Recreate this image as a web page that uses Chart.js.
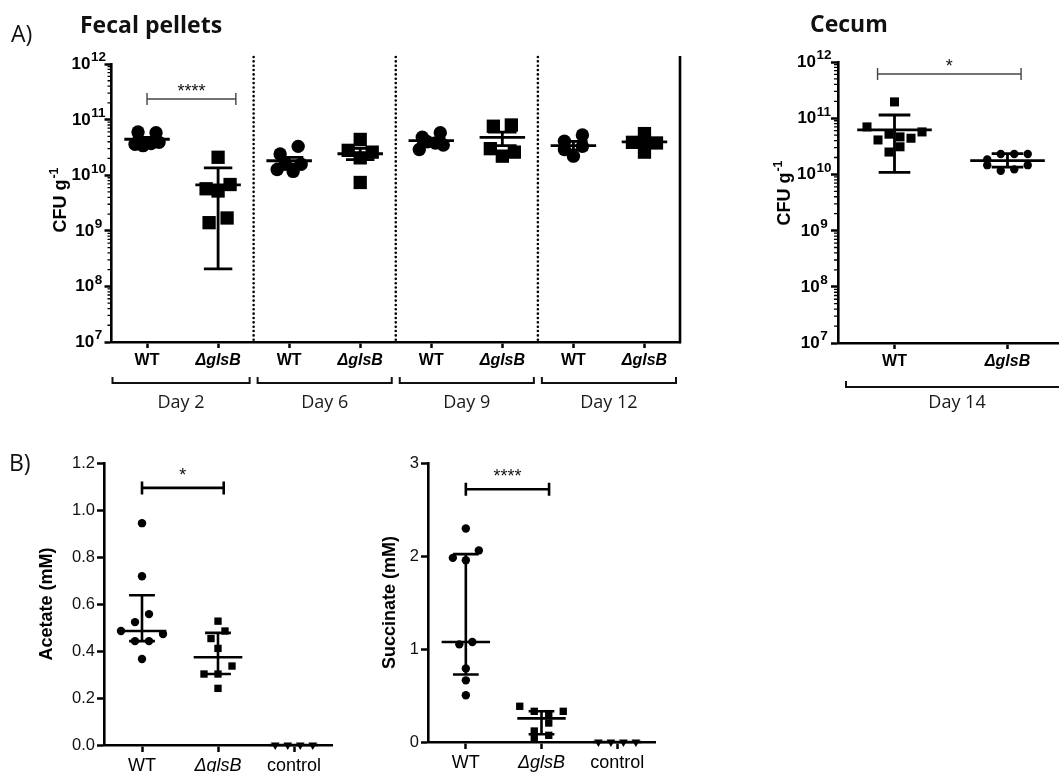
<!DOCTYPE html>
<html><head><meta charset="utf-8"><title>glsB colonization and metabolites</title>
<script src="https://cdn.jsdelivr.net/npm/chart.js@4.4.1/dist/chart.umd.min.js"></script>
<style>
html,body{margin:0;padding:0;background:#fff;}
body{width:1059px;height:772px;overflow:hidden;position:relative;}
canvas{position:absolute;display:block;}
.lbl{position:absolute;font-family:"Open Sans",sans-serif;color:#111;white-space:nowrap;line-height:23px;font-size:23px;}
</style></head><body>
<canvas id="fecal" width="700" height="420" style="left:0;top:0"></canvas>
<canvas id="cecum" width="340" height="420" style="left:740px;top:0"></canvas>
<canvas id="acetate" width="360" height="352" style="left:0;top:420px"></canvas>
<canvas id="succinate" width="320" height="352" style="left:360px;top:420px"></canvas>
<div class="lbl" style="left:11px;top:22px">A)</div>
<div class="lbl" style="left:80px;top:13px;font-weight:700">Fecal pellets</div>
<div class="lbl" style="left:810px;top:12px;font-weight:700">Cecum</div>
<div class="lbl" style="left:9px;top:451px">B)</div>
<script>
// ======================= DATA =======================
// Panel A - fecal pellets (CFU g-1)
const fecalCategories = ['WT', 'ΔglsB', 'WT', 'ΔglsB', 'WT', 'ΔglsB', 'WT', 'ΔglsB'];
const fecalDays = ['Day 2', 'Day 6', 'Day 9', 'Day 12'];
const fecalWT_day2  = [6.0e10, 5.8e10, 3.6e10, 3.4e10, 3.7e10, 3.9e10];
const fecalKO_day2  = [2.1e10, 5.7e9, 5.2e9, 6.8e9, 1.4e9, 1.7e9];
const fecalWT_day6  = [2.4e10, 3.3e10, 1.27e10, 1.57e10, 1.17e10, 1.57e10];
const fecalKO_day6  = [4.4e10, 2.8e10, 2.05e10, 2.6e10, 7.4e9];
const fecalWT_day9  = [4.8e10, 5.8e10, 2.9e10, 4.0e10, 3.8e10, 3.5e10];
const fecalKO_day9  = [7.6e10, 8.0e10, 3.0e10, 2.2e10, 2.6e10];
const fecalWT_day12 = [4.1e10, 5.3e10, 2.9e10, 3.3e10, 2.2e10];
const fecalKO_day12 = [5.6e10, 3.9e10, 4.0e10, 3.8e10, 2.6e10];
const fecalMean    = [4.43e10, 6.7e9, 1.82e10, 2.43e10, 4.17e10, 4.78e10, 3.39e10, 3.98e10];
const fecalErrHigh = [4.8e10, 1.35e10, 2.1e10, 3.05e10, 4.55e10, 5.96e10, 4.05e10, 4.4e10];
const fecalErrLow  = [4.1e10, 2.06e8, 1.58e10, 1.9e10, 3.75e10, 3.4e10, 2.85e10, 3.55e10];
const fecalSig = {from: 0, to: 1.25, at: 2.35e11, label: '****'};

// Panel A - cecum (CFU g-1), day 14
const cecumCategories = ['WT', 'ΔglsB'];
const cecumDay = 'Day 14';
const cecumWT = [1.95e11, 7.0e10, 4.1e10, 5.2e10, 4.65e10, 4.4e10, 5.7e10, 2.5e10, 3.1e10];
const cecumKO = [1.85e10, 2.3e10, 2.3e10, 2.3e10, 1.46e10, 1.16e10, 1.23e10, 1.46e10];
const cecumMean    = [6.2e10, 1.76e10];
const cecumErrHigh = [1.14e11, 2.35e10];
const cecumErrLow  = [1.09e10, 1.35e10];
const cecumSig = {from: -0.15, to: 1.12, at: 6.1e11, label: '*'};

const logTickExponents = [7, 8, 9, 10, 11, 12];
const logMinorMultipliers = [2, 3, 4, 5, 6, 7, 8, 9];

// Panel B - metabolites (mM)
const bCategories = ['WT', 'ΔglsB', 'control'];
const acetateWT   = [0.944, 0.718, 0.523, 0.557, 0.485, 0.442, 0.442, 0.472, 0.366];
const acetateKO   = [0.527, 0.453, 0.485, 0.411, 0.302, 0.302, 0.336, 0.241];
const acetateCtrl = [0, 0, 0, 0];
const acetateTicks = [0, 0.2, 0.4, 0.6, 0.8, 1.0, 1.2];
const acetateSig = {from: 0, to: 1.075, at: 1.094, label: '*'};

const succinateWT   = [2.295, 1.98, 1.954, 2.06, 1.05, 1.075, 0.79, 0.663, 0.502];
const succinateKO   = [0.384, 0.33, 0.305, 0.33, 0.118, 0.204, 0.036, 0.072];
const succinateCtrl = [0, 0, 0, 0];
const succinateTicks = [0, 1, 2, 3];
const succinateSig = {from: 0, to: 1.1, at: 2.717, label: '****'};

// ======================= HELPERS =======================
const FONT = '"Liberation Sans", Arial, Helvetica, sans-serif';
const DAY_FONT = '"Open Sans", sans-serif';

// Prism style quartiles (n+1 method)
function quartiles(arr) {
  const s = [...arr].sort((a, b) => a - b), n = s.length;
  const q = p => {
    const pos = p * (n + 1), lo = Math.floor(pos), f = pos - lo;
    if (lo < 1) return s[0];
    if (lo >= n) return s[n - 1];
    return s[lo - 1] + f * (s[lo] - s[lo - 1]);
  };
  return {q1: q(0.25), med: q(0.5), q3: q(0.75)};
}

function makeDataset(values, group, style) {
  return {
    data: values.map(v => ({x: group, y: v})),
    group: group,
    swarm: style.swarm,
    clip: false,
    showLine: false,
    pointStyle: style.shape,
    pointRadius: style.r,
    pointRotation: style.rot || 0,
    pointBackgroundColor: '#000',
    pointBorderColor: '#000',
    pointBorderWidth: 0,
    pointHoverRadius: style.r
  };
}

// horizontal spreading of overlapping points (rows centred on the column), computed from scale pixels
function applySwarm(chart) {
  const xs = chart.scales.x, ys = chart.scales.y;
  const unit = xs.getPixelForValue(1) - xs.getPixelForValue(0);
  chart.data.datasets.forEach(ds => {
    const sw = ds.swarm;
    if (!sw) return;
    const pts = ds.data.map((p, i) => ({i, py: ys.getPixelForValue(p.y)}));
    const sorted = [...pts].sort((a, b) => a.py - b.py || a.i - b.i);
    const rows = [];
    sorted.forEach(p => {
      const r = rows[rows.length - 1];
      if (r && p.py - r.y0 <= sw.tol) r.m.push(p); else rows.push({y0: p.py, m: [p]});
    });
    rows.forEach(r => {
      r.m.sort((a, b) => a.i - b.i);
      const n = r.m.length;
      const s = n > 1 ? Math.min(sw.spacing, sw.span / (n - 1)) : 0;
      r.m.forEach((p, k) => { ds.data[p.i].x = ds.group + (k - (n - 1) / 2) * s / unit; });
    });
  });
  chart.update('none');
}

function catAxis(cats, o) {
  return {
    type: 'linear', min: -0.5, max: cats.length - 0.5,
    afterBuildTicks: s => { s.ticks = cats.map((c, i) => ({value: i})); },
    afterFit: s => { s.height = o.height; },
    ticks: {
      autoSkip: false, maxRotation: 0, minRotation: 0, padding: o.pad, color: '#000',
      callback: v => cats[Math.round(v)],
      font: ctx => ({family: FONT, size: o.size, weight: o.weight,
        style: (cats[ctx.index] || '').charAt(0) === 'Δ' ? 'italic' : 'normal'})
    },
    grid: {display: true, drawOnChartArea: false, drawTicks: true, tickLength: o.tick, tickWidth: 2.5, tickColor: '#000', color: '#000'},
    border: {display: true, width: 2.6, color: '#000'}
  };
}

function logAxis(width) {
  return {
    type: 'logarithmic', min: Math.pow(10, logTickExponents[0]), max: Math.pow(10, logTickExponents[logTickExponents.length - 1]),
    afterBuildTicks: s => { s.ticks = logTickExponents.map(e => ({value: Math.pow(10, e), major: true})); },
    afterFit: s => { s.width = width; },
    ticks: {display: false},
    grid: {display: true, drawOnChartArea: false, drawTicks: true, tickLength: 7, tickWidth: 2.5, tickColor: '#000', color: '#000'},
    border: {display: true, width: 2.6, color: '#000'}
  };
}

function linAxis(tickVals, width, decimals, title, titlePad) {
  return {
    type: 'linear', min: tickVals[0], max: tickVals[tickVals.length - 1],
    afterBuildTicks: s => { s.ticks = tickVals.map(v => ({value: v})); },
    afterFit: s => { s.width = width; },
    ticks: {color: '#111', padding: 2, font: {family: FONT, size: 16.5}, callback: v => Number(v).toFixed(decimals)},
    grid: {display: true, drawOnChartArea: false, drawTicks: true, tickLength: 7, tickWidth: 2.5, tickColor: '#000', color: '#000'},
    border: {display: true, width: 2.6, color: '#000'},
    title: {display: true, text: title, color: '#000', font: {family: FONT, size: 18, weight: 'bold'}, padding: {top: titlePad, bottom: 0}}
  };
}

function drawErrorBars(chart, centers, lows, highs, st) {
  const {ctx, scales: {x, y}} = chart;
  const unit = x.getPixelForValue(1) - x.getPixelForValue(0);
  ctx.save();
  ctx.strokeStyle = '#000'; ctx.lineWidth = st.lw; ctx.lineCap = 'butt';
  centers.forEach((c, g) => {
    const cx = x.getPixelForValue(g);
    const yc = y.getPixelForValue(c), yl = y.getPixelForValue(lows[g]), yh = y.getPixelForValue(highs[g]);
    const hm = unit * st.mean, hc = unit * st.cap;
    ctx.beginPath();
    ctx.moveTo(cx, yh); ctx.lineTo(cx, yl);
    ctx.moveTo(cx - hc, yh); ctx.lineTo(cx + hc, yh);
    ctx.moveTo(cx - hc, yl); ctx.lineTo(cx + hc, yl);
    ctx.moveTo(cx - hm, yc); ctx.lineTo(cx + hm, yc);
    ctx.stroke();
  });
  ctx.restore();
}

function drawSig(chart, b, st) {
  const {ctx, scales: {x, y}} = chart;
  const x1 = x.getPixelForValue(b.from), x2 = x.getPixelForValue(b.to), py = y.getPixelForValue(b.at);
  ctx.save();
  ctx.strokeStyle = st.color; ctx.lineWidth = st.lw;
  ctx.beginPath();
  ctx.moveTo(x1, py); ctx.lineTo(x2, py);
  ctx.moveTo(x1, py - st.tick); ctx.lineTo(x1, py + st.tick);
  ctx.moveTo(x2, py - st.tick); ctx.lineTo(x2, py + st.tick);
  ctx.stroke();
  ctx.font = `18px ${FONT}`; ctx.fillStyle = '#111';
  ctx.textAlign = 'center'; ctx.textBaseline = 'alphabetic';
  ctx.fillText(b.label, (x1 + x2) / 2, py - st.gap);
  ctx.restore();
}

function drawLogDecor(chart, o) {
  const {ctx, scales: {y}} = chart;
  const ax = y.right;
  ctx.save();
  // minor ticks
  ctx.strokeStyle = '#000'; ctx.lineWidth = 1.3;
  ctx.beginPath();
  logTickExponents.slice(0, -1).forEach(e => {
    logMinorMultipliers.forEach(m => {
      const py = y.getPixelForValue(m * Math.pow(10, e));
      ctx.moveTo(ax - 4, py); ctx.lineTo(ax, py);
    });
  });
  ctx.stroke();
  // labels 10^n
  ctx.fillStyle = '#000'; ctx.textAlign = 'left'; ctx.textBaseline = 'alphabetic';
  logTickExponents.forEach(e => {
    const py = y.getPixelForValue(Math.pow(10, e));
    const base = `bold 17px ${FONT}`, sup = `bold 13.5px ${FONT}`;
    ctx.font = base; const w1 = ctx.measureText('10').width;
    ctx.font = sup; const w2 = ctx.measureText(String(e)).width;
    const left = ax - o.labelCenter - (w1 + w2) / 2;
    const bl = py + 5;
    ctx.font = base; ctx.fillText('10', left, bl);
    ctx.font = sup; ctx.fillText(String(e), left + w1 + 0.5, bl - 7.6);
  });
  // axis title CFU g-1
  ctx.translate(o.titleX, o.titleY);
  ctx.rotate(-Math.PI / 2);
  const tf = `bold 18px ${FONT}`, sf = `bold 12.5px ${FONT}`;
  ctx.font = tf; const t1 = ctx.measureText('CFU g').width;
  ctx.font = sf; const t2 = ctx.measureText('-1').width;
  const start = -(t1 + t2 + 1) / 2;
  ctx.font = tf; ctx.fillText('CFU g', start, 6.5);
  ctx.font = sf; ctx.fillText('-1', start + t1 + 1, -1.5);
  ctx.restore();
}

function drawBracket(ctx, x1, x2, yLine, tickUp, label, labelY, openRight) {
  ctx.save();
  ctx.strokeStyle = '#111'; ctx.lineWidth = 2; ctx.lineCap = 'butt';
  ctx.beginPath();
  ctx.moveTo(x1, yLine - tickUp); ctx.lineTo(x1, yLine); ctx.lineTo(x2, yLine);
  if (!openRight) ctx.lineTo(x2, yLine - tickUp);
  ctx.stroke();
  ctx.font = `18px ${DAY_FONT}`; ctx.fillStyle = '#1a1a1a';
  ctx.textAlign = 'center'; ctx.textBaseline = 'alphabetic';
  ctx.fillText(label, (x1 + x2) / 2, labelY);
  ctx.restore();
}

// ======================= FECAL CHART =======================
const fecalGroups = [fecalWT_day2, fecalKO_day2, fecalWT_day6, fecalKO_day6, fecalWT_day9, fecalKO_day9, fecalWT_day12, fecalKO_day12];
const fecalSwarm = {tol: 8, spacing: 18, span: 24};
const fecalDatasets = fecalGroups.map((vals, g) => makeDataset(vals, g,
  g % 2 === 0 ? {shape: 'circle', r: 6.7, swarm: fecalSwarm} : {shape: 'rect', r: 9.4, swarm: fecalSwarm}));

const fecalPlugin = {
  id: 'fecalDecor',
  afterDatasetsDraw(chart) {
    drawErrorBars(chart, fecalMean, fecalErrLow, fecalErrHigh, {lw: 2.8, mean: 0.32, cap: 0.2});
  },
  afterDraw(chart) {
    const {ctx, chartArea: a, scales: {x}} = chart;
    drawLogDecor(chart, {labelCenter: 23, titleX: 59, titleY: 200});
    ctx.save();
    // dotted separators between days
    ctx.strokeStyle = '#000'; ctx.lineWidth = 2.6; ctx.lineCap = 'round'; ctx.setLineDash([0, 4.35]);
    for (let k = 1; k < fecalDays.length; k++) {
      const px = x.getPixelForValue(2 * k - 0.5);
      ctx.beginPath(); ctx.moveTo(px, a.top - 7); ctx.lineTo(px, a.bottom - 2); ctx.stroke();
    }
    ctx.setLineDash([]); ctx.lineCap = 'butt';
    // right frame
    ctx.beginPath(); ctx.moveTo(a.right, a.top - 8); ctx.lineTo(a.right, a.bottom + 1.3); ctx.stroke();
    ctx.restore();
    drawSig(chart, fecalSig, {color: '#444', lw: 1.4, tick: 6, gap: 1.5});
    fecalDays.forEach((d, k) => {
      const x1 = x.getPixelForValue(2 * k - 0.5) + (k === 0 ? 1 : 4);
      const x2 = x.getPixelForValue(2 * k + 1.5) - 4;
      drawBracket(ctx, x1, x2, a.bottom + 41, 6, d, a.bottom + 66, false);
    });
  }
};

const fecalChart = new Chart(document.getElementById('fecal'), {
  type: 'scatter',
  data: {datasets: fecalDatasets},
  options: {
    animation: false, responsive: false, events: [],
    layout: {padding: {left: 0, top: 64, right: 20, bottom: 0}},
    plugins: {legend: {display: false}, tooltip: {enabled: false}},
    scales: {
      x: catAxis(fecalCategories, {height: 78, pad: 3, size: 16, weight: 'bold', tick: 6}),
      y: logAxis(111.5)
    }
  },
  plugins: [fecalPlugin]
});
applySwarm(fecalChart);

// ======================= CECUM CHART =======================
const cecumDatasets = [
  makeDataset(cecumWT, 0, {shape: 'rect', r: 6.4, swarm: {tol: 14, spacing: 11, span: 56}}),
  makeDataset(cecumKO, 1, {shape: 'circle', r: 4.2, swarm: {tol: 8, spacing: 13.5, span: 45}})
];
const cecumPlugin = {
  id: 'cecumDecor',
  afterDatasetsDraw(chart) {
    drawErrorBars(chart, cecumMean, cecumErrLow, cecumErrHigh, {lw: 2.8, mean: 0.33, cap: 0.14});
  },
  afterDraw(chart) {
    const {ctx, chartArea: a, scales: {x}} = chart;
    drawLogDecor(chart, {labelCenter: 24, titleX: 43, titleY: 193});
    drawSig(chart, cecumSig, {color: '#444', lw: 1.4, tick: 6, gap: 1.7});
    drawBracket(ctx, x.getPixelForValue(-0.5) + 8, x.getPixelForValue(1.5) + 4, a.bottom + 44, 6, cecumDay, a.bottom + 65, true);
  }
};
const cecumChart = new Chart(document.getElementById('cecum'), {
  type: 'scatter',
  data: {datasets: cecumDatasets},
  options: {
    animation: false, responsive: false, events: [],
    layout: {padding: {left: 0, top: 62, right: 16, bottom: 0}},
    plugins: {legend: {display: false}, tooltip: {enabled: false}},
    scales: {
      x: catAxis(cecumCategories, {height: 77, pad: 3, size: 16, weight: 'bold', tick: 6}),
      y: logAxis(98)
    }
  },
  plugins: [cecumPlugin]
});
applySwarm(cecumChart);

// ======================= PANEL B =======================
function metaboliteChart(id, groups, ticks, decimals, title, titlePad, sig, yWidth, pad, xHeight, swarms) {
  const stats = groups.map(quartiles);
  const datasets = [
    makeDataset(groups[0], 0, {shape: 'circle', r: 4.2, swarm: swarms[0]}),
    makeDataset(groups[1], 1, {shape: 'rect', r: 5.2, swarm: swarms[1]}),
    makeDataset(groups[2], 2, {shape: 'triangle', r: 5, rot: 180, swarm: swarms[2]})
  ];
  const plugin = {
    id: id + 'Decor',
    afterDatasetsDraw(chart) {
      drawErrorBars(chart, stats.map(s => s.med), stats.map(s => s.q1), stats.map(s => s.q3), {lw: 2.6, mean: 0.32, cap: 0.17});
    },
    afterDraw(chart) {
      drawSig(chart, sig, {color: '#000', lw: 2.6, tick: 6.5, gap: 7});
    }
  };
  const chart = new Chart(document.getElementById(id), {
    type: 'scatter',
    data: {datasets},
    options: {
      animation: false, responsive: false, events: [],
      layout: {padding: pad},
      plugins: {legend: {display: false}, tooltip: {enabled: false}},
      scales: {
        x: catAxis(bCategories, {height: xHeight, pad: 3, size: 18, weight: 'normal', tick: 7}),
        y: linAxis(ticks, yWidth, decimals, title, titlePad)
      }
    },
    plugins: [plugin]
  });
  applySwarm(chart);
  return chart;
}

metaboliteChart('acetate', [acetateWT, acetateKO, acetateCtrl], acetateTicks, 1, 'Acetate (mM)', 36, acetateSig,
  104, {left: 0, top: 43, right: 28, bottom: 0}, 27,
  [{tol: 10.5, spacing: 14, span: 42}, {tol: 9, spacing: 14, span: 44}, {tol: 8, spacing: 12.5, span: 40}]);

metaboliteChart('succinate', [succinateWT, succinateKO, succinateCtrl], succinateTicks, 0, 'Succinate (mM)', 19, succinateSig,
  68, {left: 0, top: 43, right: 25, bottom: 0}, 30,
  [{tol: 10.5, spacing: 13, span: 42}, {tol: 9, spacing: 14.5, span: 44}, {tol: 8, spacing: 12.5, span: 40}]);
</script>
</body></html>
